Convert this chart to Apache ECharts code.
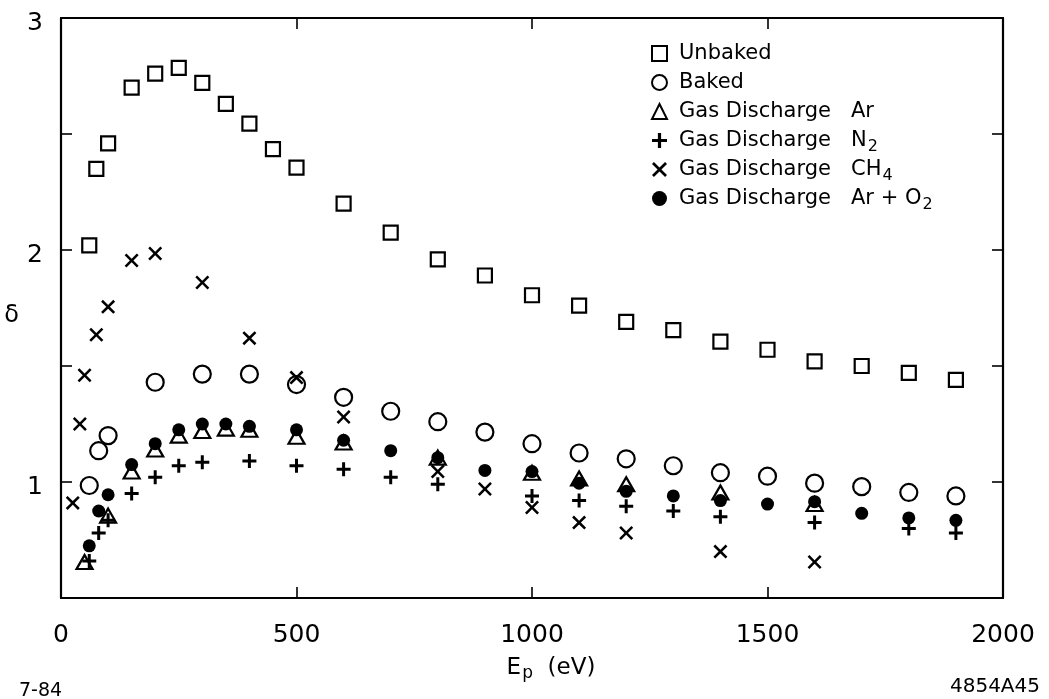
<!DOCTYPE html>
<html>
<head>
<meta charset="utf-8">
<script src="https://cdn.jsdelivr.net/npm/echarts@6/dist/echarts.min.js"></script>
<style>html,body{margin:0;padding:0;background:#fff}#c{width:1049px;height:699px}</style>
</head>
<body>
<div id="c"></div>
<script>
// ---- data ----
const xTickLabels = [0, 500, 1000, 1500, 2000];
const yTickLabels = [1, 2, 3];

const xUnbaked = [60,75,100,150,200,250,300,350,400,450,500,600,700,800,900,1000,1100,1200,1300,1400,1500,1600,1700,1800,1900];
const yUnbaked = [2.02,2.35,2.46,2.70,2.76,2.785,2.72,2.63,2.545,2.435,2.355,2.20,2.075,1.96,1.89,1.805,1.76,1.69,1.655,1.605,1.57,1.52,1.50,1.47,1.44];

const xBaked = [60,80,100,200,300,400,500,600,700,800,900,1000,1100,1200,1300,1400,1500,1600,1700,1800,1900];
const yBaked = [0.985,1.135,1.20,1.43,1.465,1.465,1.42,1.365,1.305,1.26,1.215,1.165,1.125,1.10,1.07,1.04,1.025,0.995,0.98,0.955,0.94];

const xAr = [50,100,150,200,250,300,350,400,500,600,800,1000,1100,1200,1400,1600];
const yAr = [0.655,0.855,1.045,1.14,1.20,1.22,1.23,1.225,1.195,1.17,1.105,1.04,1.015,0.99,0.955,0.905];

const xN2 = [60,80,100,150,200,250,300,400,500,600,700,800,1000,1100,1200,1300,1400,1600,1800,1900];
const yN2 = [0.66,0.78,0.835,0.95,1.02,1.07,1.085,1.09,1.07,1.055,1.02,0.99,0.94,0.92,0.895,0.875,0.85,0.825,0.80,0.78];

const xCH4 = [25,40,50,75,100,150,200,300,400,500,600,800,900,1000,1100,1200,1400,1600];
const yCH4 = [0.91,1.25,1.46,1.635,1.755,1.955,1.985,1.86,1.62,1.45,1.28,1.045,0.97,0.89,0.825,0.78,0.70,0.655];

const xArO2 = [60,80,100,150,200,250,300,350,400,500,600,700,800,900,1000,1100,1200,1300,1400,1500,1600,1700,1800,1900];
const yArO2 = [0.725,0.875,0.945,1.075,1.165,1.225,1.25,1.25,1.24,1.225,1.18,1.135,1.105,1.05,1.045,0.995,0.96,0.94,0.92,0.905,0.915,0.865,0.845,0.835];

// ---- chart ----
const FONT = 'DejaVu Sans';
const pair = (xs, ys) => xs.map((x, i) => [x, ys[i]]);
const PLUS = 'path://M-1.5,-7 L1.5,-7 L1.5,-1.5 L7,-1.5 L7,1.5 L1.5,1.5 L1.5,7 L-1.5,7 L-1.5,1.5 L-7,1.5 L-7,-1.5 L-1.5,-1.5 Z';
const CROSS = 'path://M-7,-5.2 L-5.2,-7 L0,-1.8 L5.2,-7 L7,-5.2 L1.8,0 L7,5.2 L5.2,7 L0,1.8 L-5.2,7 L-7,5.2 L-1.8,0 Z';
const hollow = {color: 'rgba(0,0,0,0)', borderColor: '#000', borderWidth: 2.2, opacity: 1};
const solid = {color: '#000', opacity: 1};

const legendLabels = {
  'Unbaked': '{n|Unbaked}',
  'Baked': '{n|Baked}',
  'Gas Discharge   Ar': '{n|Gas Discharge   Ar}',
  'Gas Discharge   N2': '{n|Gas Discharge   N}{s|2}',
  'Gas Discharge   CH4': '{n|Gas Discharge   CH}{s|4}',
  'Gas Discharge   Ar + O2': '{n|Gas Discharge   Ar + O}{s|2}'
};

const axisCommon = {
  axisLine: {show: true, onZero: false, lineStyle: {color: '#000', width: 2.2}},
  axisTick: {show: true, inside: true, length: 11, lineStyle: {color: '#000', width: 1.6}},
  splitLine: {show: false}
};

const chart = echarts.init(document.getElementById('c'), null, {renderer: 'canvas'});
chart.setOption({
  backgroundColor: '#fff',
  animation: false,
  textStyle: {fontFamily: FONT},
  title: [
    {text: '7-84', left: 14, top: 677, textStyle: {fontFamily: FONT, fontSize: 19, fontWeight: 'normal', color: '#000'}},
    {text: '4854A45', right: 4, top: 672, textStyle: {fontFamily: FONT, fontSize: 20, fontWeight: 'normal', color: '#000'}}
  ],
  grid: {left: 61, right: 46, top: 16, bottom: 101, containLabel: false},
  legend: {
    orient: 'vertical', left: 646, top: 34,
    itemWidth: 15, itemHeight: 15, itemGap: 0,
    formatter: name => legendLabels[name] || name,
    textStyle: {
      fontFamily: FONT, fontSize: 21, color: '#000',
      rich: {
        n: {fontFamily: FONT, fontSize: 21, color: '#000', lineHeight: 20, padding: [4, 0, 4, 7]},
        s: {fontFamily: FONT, fontSize: 16, color: '#000', lineHeight: 16, padding: [12, 0, 0, 1]}
      }
    }
  },
  xAxis: [
    Object.assign({}, axisCommon, {
      type: 'value', min: 0, max: 2000, interval: 500, position: 'bottom',
      name: '{a|E}{b|p}{a|  (eV)}', nameLocation: 'middle', nameGap: 58,
      nameTextStyle: {padding: [0, 0, 0, 38], rich: {
        a: {fontFamily: FONT, fontSize: 23, color: '#000', lineHeight: 24},
        b: {fontFamily: FONT, fontSize: 17, color: '#000', lineHeight: 17, padding: [12, 0, 0, 1]}
      }},
      axisLabel: {show: true, margin: 25, fontFamily: FONT, fontSize: 25, color: '#000',
        formatter: v => xTickLabels.includes(v) ? String(v) : ''}
    }),
    Object.assign({}, axisCommon, {
      type: 'value', min: 0, max: 2000, interval: 500, position: 'top',
      axisLabel: {show: false}
    })
  ],
  yAxis: [
    Object.assign({}, axisCommon, {
      type: 'value', min: 0.5, max: 3, interval: 0.5, position: 'left',
      name: '{d|δ}', nameLocation: 'middle', nameRotate: 0, nameGap: 42,
      nameTextStyle: {rich: {d: {fontFamily: FONT, fontSize: 24, color: '#000', lineHeight: 24, padding: [16, 0, 0, 0]}}},
      axisLabel: {show: true, margin: 18, color: '#000',
        formatter: v => yTickLabels.includes(v) ? '{t|' + v + '}' : '',
        rich: {t: {fontFamily: FONT, fontSize: 25, color: '#000', lineHeight: 26, padding: [11, 0, 0, 0]}}}
    }),
    Object.assign({}, axisCommon, {
      type: 'value', min: 0.5, max: 3, interval: 0.5, position: 'right',
      axisLabel: {show: false}
    })
  ],
  series: [
    {name: 'Unbaked', type: 'scatter', symbol: 'rect', symbolSize: 14, itemStyle: hollow, data: pair(xUnbaked, yUnbaked)},
    {name: 'Baked', type: 'scatter', symbol: 'circle', symbolSize: 17, itemStyle: hollow, data: pair(xBaked, yBaked)},
    {name: 'Gas Discharge   Ar', type: 'scatter', symbol: 'triangle', symbolSize: [16, 14], itemStyle: hollow, data: pair(xAr, yAr)},
    {name: 'Gas Discharge   N2', type: 'scatter', symbol: PLUS, symbolSize: 14, itemStyle: solid, data: pair(xN2, yN2)},
    {name: 'Gas Discharge   CH4', type: 'scatter', symbol: CROSS, symbolSize: 14, itemStyle: solid, data: pair(xCH4, yCH4)},
    {name: 'Gas Discharge   Ar + O2', type: 'scatter', symbol: 'circle', symbolSize: 13, itemStyle: solid, data: pair(xArO2, yArO2)}
  ]
});
</script>
</body>
</html>
